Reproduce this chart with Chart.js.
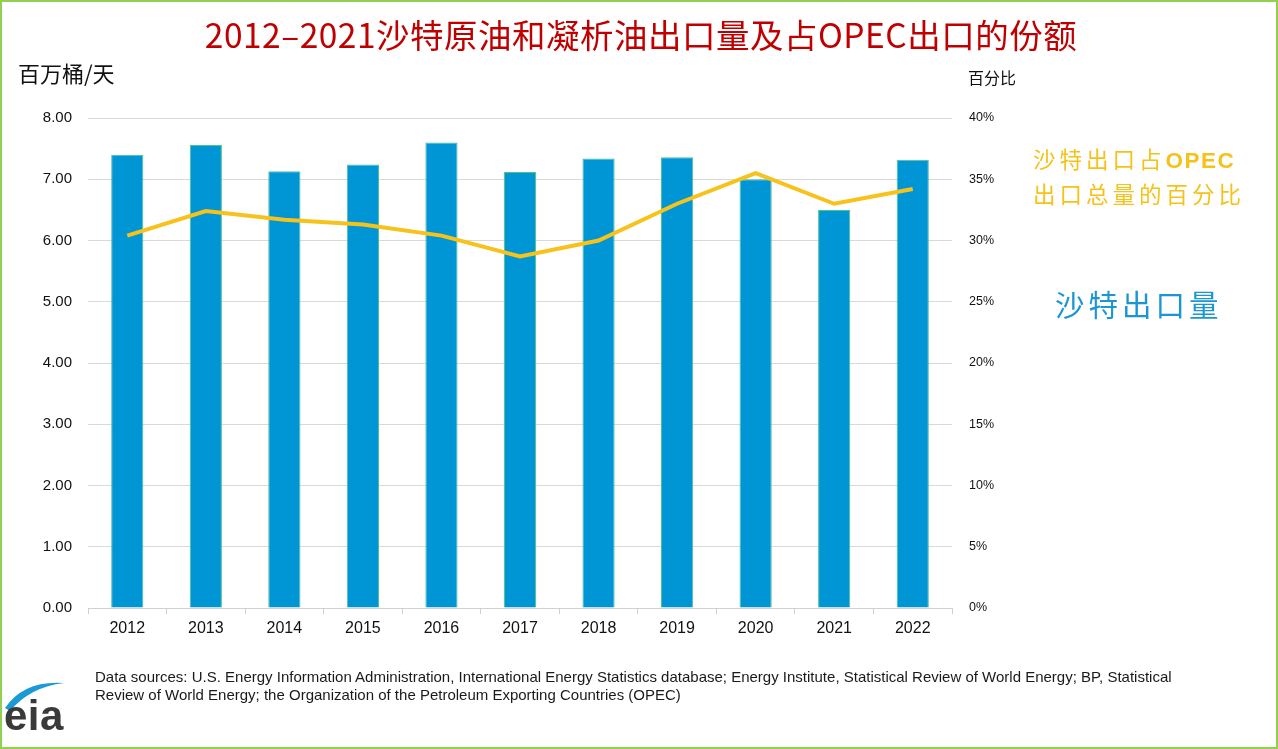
<!DOCTYPE html>
<html>
<head>
<meta charset="utf-8">
<script src="https://cdn.jsdelivr.net/npm/chart.js@4"></script>
<style>
    html, body { margin: 0; padding: 0; background: #fff; }
    #frame {
        position: relative; width: 1278px; height: 749px; box-sizing: border-box;
        border: 2px solid #92d050; overflow: hidden;
        font-family: "Noto Sans CJK SC", "Noto Sans", sans-serif;
    }
    #chart { position: absolute; left: -2px; top: -2px; }
    .txt { position: absolute; white-space: nowrap; }
    #title { left: 0; width: 1278px; top: 7px; text-align: center; color: #c00000; font-size: 33.5px; letter-spacing: 0.5px; }
    #yl { left: 16px; top: 54px; font-size: 22px; color: #111; }
    #yr { left: 966px; top: 63px; font-size: 16px; color: #111; }
    #lgLine { left: 1031px; top: 140px; font-size: 22.5px; line-height: 32px; color: #f5c21a; letter-spacing: 4px; }
    #lgLine b { font-family: "Liberation Sans", Arial, sans-serif; letter-spacing: 1.5px; }
    #lgBar { left: 1053px; top: 280px; font-size: 29.5px; color: #1b96d3; letter-spacing: 4px; }
    #src { left: 93px; top: 666px; font-family: "Liberation Sans", Arial, sans-serif; font-size: 15px; line-height: 18px; color: #1a1a1a; }
    #logo { position: absolute; left: 0; top: 672px; }
</style>
</head>
<body>
<div id="frame">
    <canvas id="chart"></canvas>
    <div class="txt" id="title">2012–2021沙特原油和凝析油出口量及占OPEC出口的份额</div>
    <div class="txt" id="yl">百万桶/天</div>
    <div class="txt" id="yr">百分比</div>
    <div class="txt" id="lgLine">沙特出口占<b>OPEC</b><br>出口总量的百分比</div>
    <div class="txt" id="lgBar">沙特出口量</div>
    <div class="txt" id="src">Data sources: U.S. Energy Information Administration, International Energy Statistics database; Energy Institute, Statistical Review of World Energy; BP, Statistical<br>Review of World Energy; the Organization of the Petroleum Exporting Countries (OPEC)</div>
    <svg id="logo" width="70" height="65">
        <path d="M3 34 Q 22 6 62 9 Q 28 13 8 37 Z" fill="#1b9ad6"/>
        <text x="2" y="56" font-family="Liberation Sans, Arial, sans-serif" font-weight="bold" font-size="42" fill="#3a3a3a" letter-spacing="0.5">eia</text>
    </svg>
</div>
<script>
// Years on the x axis
const years = ['2012', '2013', '2014', '2015', '2016', '2017', '2018', '2019', '2020', '2021', '2022'];
// Saudi crude + condensate exports, million barrels/day
const exportsMbd = [7.40, 7.56, 7.13, 7.24, 7.60, 7.12, 7.34, 7.36, 7.00, 6.50, 7.32];
// Share of total OPEC exports, percent
const opecShare = [30.4, 32.4, 31.7, 31.3, 30.4, 28.7, 30.0, 33.0, 35.5, 33.0, 34.2];

const leftTicks = { min: 0, max: 8, step: 1 };
const rightTicks = { min: 0, max: 40, step: 5 };

const ctx = document.getElementById('chart');
ctx.width = 1278;
ctx.height = 749;

new Chart(ctx, {
    data: {
        labels: years,
        datasets: [
            {
                type: 'line',
                data: opecShare,
                yAxisID: 'yRight',
                borderColor: '#f7c21b',
                borderWidth: 4,
                pointRadius: 0,
                tension: 0,
                order: 0
            },
            {
                type: 'bar',
                data: exportsMbd,
                yAxisID: 'yLeft',
                backgroundColor: '#0095d5',
                borderColor: '#4cc48c',
                borderWidth: 1,
                barPercentage: 0.41,
                categoryPercentage: 1,
                order: 1
            }
        ]
    },
    options: {
        responsive: false,
        animation: false,
        layout: { padding: { top: 118, bottom: 101, left: 0, right: 0 } },
        plugins: { legend: { display: false }, tooltip: { enabled: false } },
        scales: {
            x: {
                grid: { offset: true, drawOnChartArea: false, tickLength: 6, color: '#d0d0d0' },
                border: { color: '#d0d0d0' },
                ticks: { color: '#111', font: { family: 'Liberation Sans, Arial', size: 16 }, padding: 5 },
                afterFit: (s) => { s.height = 40; }
            },
            yLeft: {
                position: 'left',
                min: leftTicks.min,
                max: leftTicks.max,
                grid: { color: '#d9d9d9', drawTicks: false },
                border: { display: false },
                ticks: {
                    stepSize: leftTicks.step,
                    padding: 16,
                    color: '#111',
                    font: { family: 'Liberation Sans, Arial', size: 15 },
                    callback: (v) => v.toFixed(2)
                },
                afterFit: (s) => { s.width = 88; }
            },
            yRight: {
                position: 'right',
                min: rightTicks.min,
                max: rightTicks.max,
                grid: { drawOnChartArea: false, drawTicks: false },
                border: { display: false },
                ticks: {
                    stepSize: rightTicks.step,
                    padding: 17,
                    color: '#111',
                    font: { family: 'Liberation Sans, Arial', size: 12.5 },
                    callback: (v) => v + '%'
                },
                afterFit: (s) => { s.width = 1278 - 952; }
            }
        }
    }
});
</script>
</body>
</html>
